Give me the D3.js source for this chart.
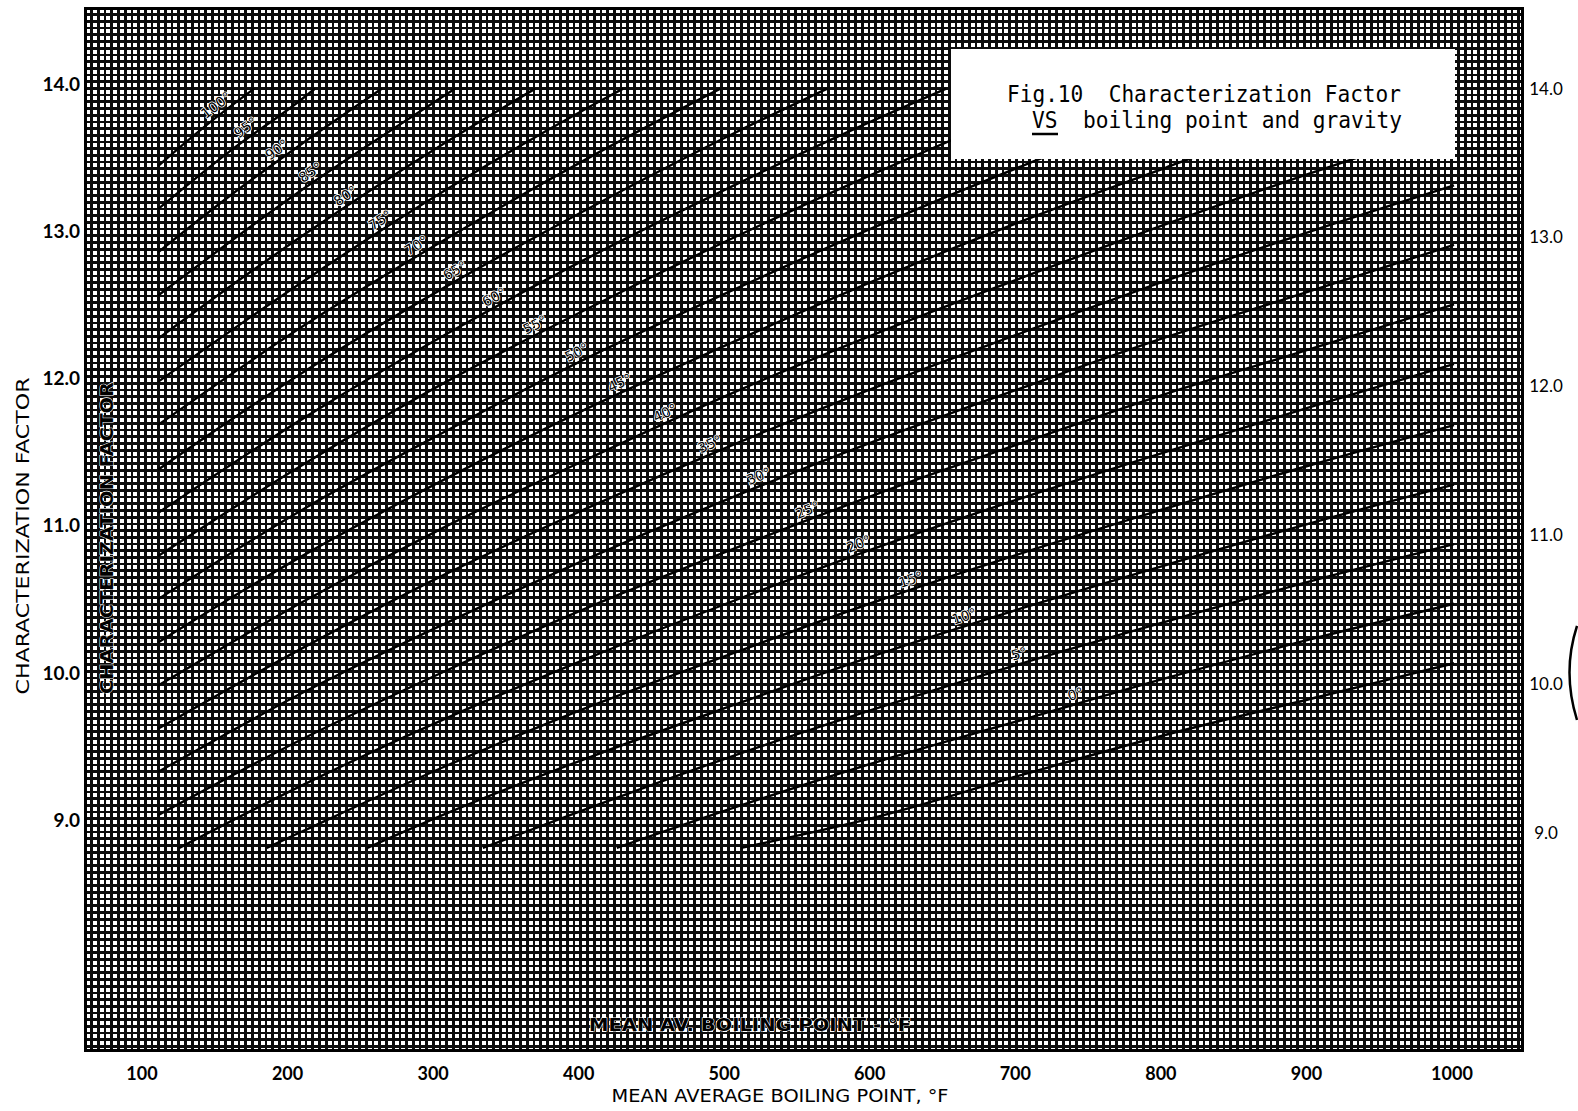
<!DOCTYPE html>
<html>
<head>
<meta charset="utf-8">
<script src="https://cdn.jsdelivr.net/npm/d3@7/dist/d3.min.js"></script>
<style>
body { margin: 0; background: #fff; }
svg { display: block; }
</style>
</head>
<body>
<svg id="chart" width="1578" height="1111"></svg>
<script>
// axis ticks
var tempTicks = [100, 200, 300, 400, 500, 600, 700, 800, 900, 1000];
var kTicks = [9, 10, 11, 12, 13, 14];

// API gravity curves, [mean avg boiling point F, characterization factor]
var gravities = [100, 95, 90, 85, 80, 75, 70, 65, 60, 55, 50, 45, 40, 35, 30, 25, 20, 15, 10, 5, 0, -5];
var api100 = [[100, 13.48], [133, 13.75], [166.8, 14.0]];
var api95 = [[100, 13.19], [150, 13.58], [200, 13.93], [209, 14.0]];
var api90 = [[100, 12.90], [150, 13.28], [200, 13.63], [255.6, 14.0]];
var api85 = [[100, 12.61], [200, 13.32], [300, 13.96], [306.4, 14.0]];
var api80 = [[100, 12.32], [200, 13.01], [300, 13.64], [362, 14.0]];
var api75 = [[100, 12.03], [200, 12.70], [300, 13.32], [400, 13.88], [423, 14.0]];
var api70 = [[100, 11.74], [200, 12.40], [300, 12.99], [400, 13.54], [490.5, 14.0]];
var api65 = [[100, 11.44], [200, 12.09], [300, 12.67], [400, 13.20], [500, 13.70], [564.8, 14.0]];
var api60 = [[100, 11.15], [200, 11.78], [300, 12.35], [400, 12.87], [500, 13.35], [600, 13.80], [647.4, 14.0]];
var api55 = [[100, 10.86], [200, 11.47], [300, 12.03], [400, 12.53], [500, 13.00], [600, 13.44], [700, 13.85], [738.7, 14.0]];
var api50 = [[100, 10.57], [200, 11.17], [300, 11.70], [400, 12.20], [500, 12.65], [600, 13.08], [700, 13.48], [800, 13.85], [840.5, 14.0]];
var api45 = [[100, 10.28], [200, 10.86], [300, 11.38], [400, 11.86], [500, 12.30], [600, 12.72], [700, 13.11], [800, 13.47], [900, 13.82], [954.3, 14.0]];
var api40 = [[100, 9.99], [200, 10.55], [300, 11.06], [400, 11.52], [500, 11.96], [600, 12.36], [700, 12.73], [800, 13.09], [900, 13.43], [1000, 13.75]];
var api35 = [[100, 9.70], [200, 10.24], [300, 10.74], [400, 11.19], [500, 11.61], [600, 12.00], [700, 12.36], [800, 12.71], [900, 13.04], [1000, 13.35]];
var api30 = [[100, 9.41], [200, 9.94], [300, 10.41], [400, 10.85], [500, 11.26], [600, 11.64], [700, 11.99], [800, 12.33], [900, 12.64], [1000, 12.95]];
var api25 = [[100, 9.12], [200, 9.63], [300, 10.09], [400, 10.52], [500, 10.91], [600, 11.28], [700, 11.62], [800, 11.95], [900, 12.25], [1000, 12.55]];
var api20 = [[114.8, 8.9], [200, 9.32], [300, 9.77], [400, 10.18], [500, 10.56], [600, 10.92], [700, 11.25], [800, 11.56], [900, 11.86], [1000, 12.15]];
var api15 = [[175.5, 8.9], [200, 9.01], [300, 9.45], [400, 9.85], [500, 10.21], [600, 10.56], [700, 10.88], [800, 11.18], [900, 11.47], [1000, 11.74]];
var api10 = [[245.3, 8.9], [300, 9.13], [400, 9.51], [500, 9.86], [600, 10.20], [700, 10.51], [800, 10.80], [900, 11.08], [1000, 11.34]];
var api5 = [[325.6, 8.9], [400, 9.17], [500, 9.52], [600, 9.84], [700, 10.14], [800, 10.42], [900, 10.69], [1000, 10.94]];
var api0 = [[418.6, 8.9], [500, 9.17], [600, 9.48], [700, 9.76], [800, 10.04], [900, 10.30], [1000, 10.54]];
var apiM5 = [[505, 8.9], [600, 9.11], [700, 9.39], [800, 9.66], [900, 9.90], [1000, 10.14]];
var gravityCurves = [api100, api95, api90, api85, api80, api75, api70, api65, api60, api55, api50,
	api45, api40, api35, api30, api25, api20, api15, api10, api5, api0, apiM5];

// where each gravity label sits along its curve (F)
var labelTemps = [144.6, 165, 186.6, 209.7, 234, 258, 283, 309.5, 336.7, 365, 394,
	423.5, 455, 486, 519.7, 553.5, 589, 625, 662, 700, 739, null];

var svg = d3.select("#chart");
var W = 1578, H = 1111;
var paper = {left: 85, top: 8, right: 1522, bottom: 1050};

var x = d3.scaleLinear().domain([100, 1000]).range([158, 1454]);
var y = d3.scaleLinear().domain([9, 14]).range([833, 88.6]);
// the printed scales were pasted on a little off the curves
var xLabel = d3.scaleLinear().domain([100, 1000]).range([142, 1452]);
var yLeft = d3.scaleLinear().domain([9, 14]).range([820, 83.5]);

svg.append("rect").attr("width", W).attr("height", H).attr("fill", "#fff");

// graph paper
var grid = svg.append("g").attr("shape-rendering", "crispEdges");
grid.append("rect")
	.attr("x", paper.left).attr("y", paper.top)
	.attr("width", paper.right - paper.left).attr("height", paper.bottom - paper.top)
	.attr("fill", "#fff");
var pitch = 6.7;
grid.selectAll("line.v")
	.data(d3.range(paper.left, paper.right, pitch))
	.enter().append("line")
	.attr("class", "v")
	.attr("x1", function(d) { return d; }).attr("x2", function(d) { return d; })
	.attr("y1", paper.top).attr("y2", paper.bottom)
	.attr("stroke", "#0c0c0c").attr("stroke-width", 2.7);
grid.selectAll("line.h")
	.data(d3.range(paper.top, paper.bottom, pitch))
	.enter().append("line")
	.attr("class", "h")
	.attr("x1", paper.left).attr("x2", paper.right)
	.attr("y1", function(d) { return d; }).attr("y2", function(d) { return d; })
	.attr("stroke", "#0c0c0c").attr("stroke-width", 2.7);
grid.append("rect")
	.attr("x", paper.left).attr("y", paper.top)
	.attr("width", paper.right - paper.left).attr("height", paper.bottom - paper.top)
	.attr("fill", "none").attr("stroke", "#000").attr("stroke-width", 3);

// gravity curves
var curve = d3.line()
	.x(function(d) { return x(d[0]); })
	.y(function(d) { return y(d[1]); })
	.curve(d3.curveMonotoneX);

svg.append("g").selectAll("path")
	.data(gravityCurves)
	.enter().append("path")
	.attr("d", curve)
	.attr("fill", "none")
	.attr("stroke", "#000")
	.attr("stroke-width", 2.4);

// gravity labels along the curves
function kAt(pts, t) {
	for (var i = 1; i < pts.length; i++) {
		if (t <= pts[i][0]) {
			var f = (t - pts[i-1][0]) / (pts[i][0] - pts[i-1][0]);
			return {k: pts[i-1][1] + f * (pts[i][1] - pts[i-1][1]), a: pts[i-1], b: pts[i]};
		}
	}
	var n = pts.length;
	return {k: pts[n-1][1], a: pts[n-2], b: pts[n-1]};
}

var labels = svg.append("g");
gravities.forEach(function(g, i) {
	var t = labelTemps[i];
	if (t === null) return;
	var p = kAt(gravityCurves[i], t);
	var px = x(t), py = y(p.k);
	var ang = Math.atan2(y(p.b[1]) - y(p.a[1]), x(p.b[0]) - x(p.a[0])) * 180 / Math.PI;
	labels.append("text")
		.attr("transform", "translate(" + px + "," + py + ") rotate(" + ang + ")")
		.attr("y", -5)
		.attr("text-anchor", "middle")
		.attr("font-family", "DejaVu Sans")
		.attr("font-size", 14)
		.attr("fill", "#000")
		.attr("stroke", "#fff")
		.attr("stroke-width", 1.6)
		.attr("paint-order", "stroke")
		.text(g + "°");
});

// titles printed inside the paper, mostly swallowed by the grid
svg.append("text")
	.attr("transform", "translate(113,538) rotate(-90)")
	.attr("text-anchor", "middle")
	.attr("font-family", "DejaVu Sans")
	.attr("font-weight", "bold")
	.attr("font-size", 17)
	.attr("textLength", 312).attr("lengthAdjust", "spacingAndGlyphs")
	.attr("fill", "#000")
	.attr("stroke", "#fff").attr("stroke-width", 1).attr("paint-order", "stroke")
	.text("CHARACTERIZATION FACTOR");
svg.append("text")
	.attr("x", 750).attr("y", 1031)
	.attr("text-anchor", "middle")
	.attr("font-family", "DejaVu Sans")
	.attr("font-weight", "bold")
	.attr("font-size", 17)
	.attr("textLength", 322).attr("lengthAdjust", "spacingAndGlyphs")
	.attr("fill", "#000")
	.attr("stroke", "#fff").attr("stroke-width", 1).attr("paint-order", "stroke")
	.text("MEAN AV. BOILING POINT - °F");

// figure caption box
svg.append("rect")
	.attr("x", 951).attr("y", 49).attr("width", 504).attr("height", 110)
	.attr("fill", "#fff");
svg.append("text")
	.attr("x", 1007).attr("y", 102)
	.attr("font-family", "DejaVu Sans Mono")
	.attr("font-size", 23)
	.attr("textLength", 394).attr("lengthAdjust", "spacingAndGlyphs")
	.attr("xml:space", "preserve")
	.text("Fig.10  Characterization Factor");
svg.append("text")
	.attr("x", 1032).attr("y", 128)
	.attr("font-family", "DejaVu Sans Mono")
	.attr("font-size", 23)
	.attr("textLength", 370).attr("lengthAdjust", "spacingAndGlyphs")
	.attr("xml:space", "preserve")
	.text("VS  boiling point and gravity");
svg.append("line")
	.attr("x1", 1032).attr("x2", 1058).attr("y1", 134).attr("y2", 134)
	.attr("stroke", "#000").attr("stroke-width", 2.5);

// left axis labels
svg.append("g").selectAll("text")
	.data(kTicks)
	.enter().append("text")
	.attr("x", 80)
	.attr("y", function(d) { return yLeft(d) + 7; })
	.attr("text-anchor", "end")
	.attr("font-family", "Lato")
	.attr("font-weight", "bold")
	.attr("font-size", 19)
	.text(function(d) { return d.toFixed(1); });

// right axis labels
svg.append("g").selectAll("text")
	.data(kTicks)
	.enter().append("text")
	.attr("x", 1546)
	.attr("y", function(d) { return y(d) + 6; })
	.attr("text-anchor", "middle")
	.attr("font-family", "Lato")
	.attr("font-size", 17)
	.text(function(d) { return d.toFixed(1); });

// pencil bracket scribbled at the right margin
svg.append("path")
	.attr("d", "M1577,626 Q1562,672 1577,720")
	.attr("fill", "none")
	.attr("stroke", "#000")
	.attr("stroke-width", 2.5);

// bottom axis labels
svg.append("g").selectAll("text")
	.data(tempTicks)
	.enter().append("text")
	.attr("x", function(d) { return xLabel(d); })
	.attr("y", 1080)
	.attr("text-anchor", "middle")
	.attr("font-family", "Lato")
	.attr("font-weight", "bold")
	.attr("font-size", 18)
	.text(function(d) { return d; });

// axis titles
svg.append("text")
	.attr("x", 780).attr("y", 1102)
	.attr("text-anchor", "middle")
	.attr("font-family", "DejaVu Sans Condensed, DejaVu Sans")
	.attr("font-size", 18)
	.attr("textLength", 337).attr("lengthAdjust", "spacingAndGlyphs")
	.text("MEAN AVERAGE BOILING POINT, °F");
svg.append("text")
	.attr("transform", "translate(29,536) rotate(-90)")
	.attr("text-anchor", "middle")
	.attr("font-family", "DejaVu Sans Condensed, DejaVu Sans")
	.attr("font-size", 18)
	.attr("textLength", 317).attr("lengthAdjust", "spacingAndGlyphs")
	.text("CHARACTERIZATION FACTOR");
</script>
</body>
</html>
